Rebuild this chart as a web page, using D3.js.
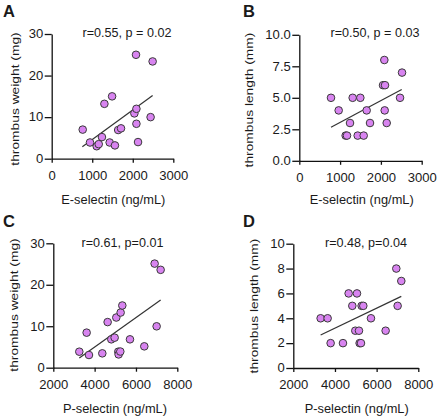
<!DOCTYPE html>
<html><head><meta charset="utf-8">
<script src="https://cdn.jsdelivr.net/npm/d3@7"></script>
<style>body{margin:0;background:#fff}svg{display:block}text{font-family:"Liberation Sans",Arial,sans-serif;fill:#1a1a1a}</style>
</head><body><svg width="440" height="419"></svg>
<script>
// ---- data ----
const eSelA=[765,945,1110,1160,1240,1300,1430,1490,1560,1640,1710,2040,2080,2090,2090,2130,2440,2490];
const weightA=[7,3.9,3,3.5,5.2,13.2,3.9,15,3.2,6.9,7.3,10.9,25,12,8.4,4,10,23.4];
const eSelB=[777,965,1136,1169,1243,1308,1431,1496,1578,1651,1733,2052,2084,2093,2101,2142,2469,2518];
const lengthB=[5,4,2,2,3,5,2,5,2,4,3,6,8,4,6,3,5,7];
const pSelC=[3258,3613,3726,4371,4629,4806,4968,5048,5145,5161,5242,5258,5339,5710,6403,6903,7000,7194];
const weightC=[3.86,8.45,3.06,3.46,11,6.84,7.24,12.1,3.86,3.2,3.9,13.3,15,6.84,5.15,25.1,9.98,23.6];
const pSelD=[3312,3648,3792,4384,4656,4832,4976,5056,5152,5184,5248,5280,5360,5728,6432,6944,7008,7184];
const lengthD=[4,4,2,2,6,5,3,6,3,2,2,5,5,4,3,8,5,7];
const fitA=[[756,2.9],[2490,15.2]];
const fitB=[[777,2.67],[2510,5.66]];
const fitC=[[3258,2.33],[7194,16.3]];
const fitD=[[3312,2.65],[7184,5.76]];
const eTicks=[0,1000,2000,3000];
const pTicks=[2000,4000,6000,8000];
const weightTicks=[0,10,20,30];
const lengthTicksB=[0,2.5,5,7.5,10];
const lengthTicksD=[0,2,4,6,8,10];
const panelLetters=["A","B","C","D"];
const statsText=["r=0.55, p = 0.02","r=0.50, p = 0.03","r=0.61, p=0.01","r=0.48, p=0.04"];
const xTitles=["E-selectin (ng/mL)","E-selectin (ng/mL)","P-selectin (ng/mL)","P-selectin (ng/mL)"];
const yTitles=["thrombus weight (mg)","thrombus length  (mm)","thrombus weight (mg)","thrombus length  (mm)"];

const svg=d3.select("svg");
const S=1.09;
function stretch(sel,s){
  sel.each(function(){
    const t=d3.select(this);
    const x=+t.attr("x")||0, y=+t.attr("y")||0;
    t.attr("x",0).attr("y",0).attr("transform",`translate(${x},${y}) scale(${s},1)`);
  });
}

const panels=[
  {xs:eSelA,ys:weightA,fit:fitA,xd:[0,3000],yd:[0,30],xt:eTicks,yt:weightTicks,yf:d3.format("d"),
   x0:51.7,x1:173.3,y0:158.7,y1:34,letter:[3,16.7],stat:[127,37.3],xt_t:[113.3,204],yt_t:[18.5,99]},
  {xs:eSelB,ys:lengthB,fit:fitB,xd:[0,3000],yd:[0,10],xt:eTicks,yt:lengthTicksB,yf:d3.format(".1f"),
   x0:299.3,x1:421.7,y0:160.8,y1:34.8,letter:[243,16.7],stat:[375,37.3],xt_t:[361.7,204],yt_t:[253,100]},
  {xs:pSelC,ys:weightC,fit:fitC,xd:[2000,8000],yd:[0,30],xt:pTicks,yt:weightTicks,yf:d3.format("d"),
   x0:53.3,x1:177.3,y0:367.7,y1:243.3,letter:[3,226.7],stat:[122.5,246.5],xt_t:[115,413],yt_t:[18,305]},
  {xs:pSelD,ys:lengthD,fit:fitD,xd:[2000,8000],yd:[0,10],xt:pTicks,yt:lengthTicksD,yf:d3.format("d"),
   x0:293.3,x1:418.3,y0:368,y1:243.7,letter:[243,226.7],stat:[366,246.5],xt_t:[356.7,413],yt_t:[258,306]}
];

panels.forEach((p,i)=>{
  const x=d3.scaleLinear().domain(p.xd).range([p.x0,p.x1]);
  const y=d3.scaleLinear().domain(p.yd).range([p.y0,p.y1]);
  const g=svg.append("g");

  const xa=g.append("g").attr("transform",`translate(0,${p.y0})`)
    .call(d3.axisBottom(x).tickValues(p.xt).tickFormat(d3.format("d")).tickSize(4).tickSizeOuter(0).tickPadding(8.5));
  const ya=g.append("g").attr("transform",`translate(${p.x0},0)`)
    .call(d3.axisLeft(y).tickValues(p.yt).tickFormat(p.yf).tickSize(7).tickSizeOuter(0).tickPadding(1.5));
  [xa,ya].forEach(a=>{
    a.selectAll("path,line").attr("stroke","#111").attr("stroke-width",1.3);
    a.selectAll("text").attr("font-size",12).attr("fill","#1a1a1a").style("font-family",'"Liberation Sans",Arial,sans-serif');
    stretch(a.selectAll("text"),S);
  });

  g.append("line")
    .attr("x1",x(p.fit[0][0])).attr("y1",y(p.fit[0][1]))
    .attr("x2",x(p.fit[1][0])).attr("y2",y(p.fit[1][1]))
    .attr("stroke","#333").attr("stroke-width",1.2);

  g.selectAll("circle.pt").data(p.xs.map((v,k)=>[v,p.ys[k]])).join("circle")
    .attr("class","pt").attr("cx",d=>x(d[0])).attr("cy",d=>y(d[1])).attr("r",3.8)
    .attr("fill","#d884f0").attr("stroke","#3a3a3a").attr("stroke-width",1);

  g.append("text").text(panelLetters[i]).attr("font-size",16.5).attr("font-weight","bold")
    .attr("fill","#000").attr("x",p.letter[0]).attr("y",p.letter[1]);

  const st=g.append("text").text(statsText[i]).attr("font-size",12).attr("text-anchor","middle")
    .attr("x",p.stat[0]).attr("y",p.stat[1]);
  stretch(st,1.05);

  const xt=g.append("text").text(xTitles[i]).attr("font-size",12).attr("text-anchor","middle")
    .attr("x",p.xt_t[0]).attr("y",p.xt_t[1]);
  stretch(xt,1.07);

  g.append("text").text(yTitles[i]).attr("font-size",13.8).attr("text-anchor","middle")
    .attr("transform",`translate(${p.yt_t[0]},${p.yt_t[1]}) rotate(-90) scale(1,0.85)`);
});
</script></body></html>
